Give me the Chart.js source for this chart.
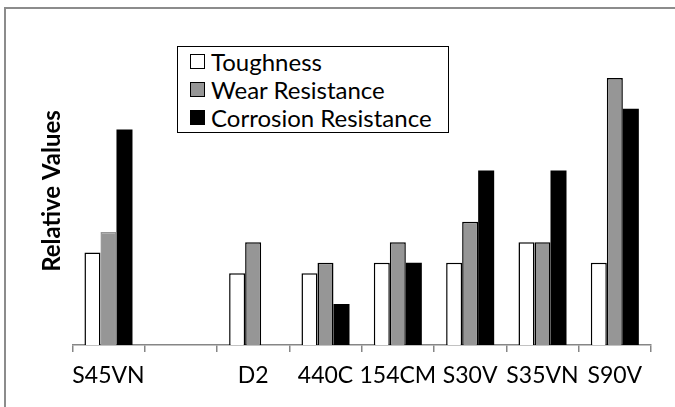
<!DOCTYPE html>
<html>
<head>
<meta charset="utf-8">
<script src="https://cdn.jsdelivr.net/npm/chart.js@4"></script>
<style>
  html, body { margin: 0; padding: 0; background: #fff; overflow: hidden; }
  #wrap { position: relative; width: 675px; height: 407px; }
  #frame { position: absolute; left: 4px; top: 7px; width: 700px; height: 430px;
           border-top: 2px solid #8c8c8c; border-left: 2px solid #8c8c8c; box-sizing: border-box; }
  #legend { position: absolute; left: 177px; top: 46px; width: 272px; height: 87px;
            border: 1.5px solid #000; box-sizing: border-box; background: #fff;
            font-family: Lato, sans-serif; font-size: 24px; color: #000; padding-top: 0px; }
  .item { display: flex; align-items: center; height: 28px; padding-left: 12px; }
  .box { width: 15px; height: 15px; box-sizing: border-box; border: 1.5px solid #000; margin-right: 6px; }
  canvas { position: absolute; left: 0; top: 0; }
</style>
</head>
<body>
<div id="wrap">
  <div id="frame"></div>
  <canvas id="chart" width="675" height="407"></canvas>
  <div id="legend"></div>
</div>
<script>
const categories = ['S45VN', '', 'D2', '440C', '154CM', 'S30V', 'S35VN', 'S90V'];
const seriesNames = ['Toughness', 'Wear Resistance', 'Corrosion Resistance'];
const toughness = [9, null, 7, 7, 8, 8, 10, 8];
const wearResistance = [11, null, 10, 8, 10, 12, 10, 26];
const corrosionResistance = [21, null, null, 4, 8, 17, 17, 23];
const yMax = 30;

const fills = ['#ffffff', '#969696', '#000000'];

Chart.defaults.font.family = 'Lato';
Chart.defaults.color = '#000';

const ctx = document.getElementById('chart').getContext('2d');
new Chart(ctx, {
    type: 'bar',
    data: {
        labels: categories,
        datasets: [
            {
                label: seriesNames[0],
                data: toughness,
                backgroundColor: fills[0],
                borderColor: '#000',
                borderWidth: 1.5
            },
            {
                label: seriesNames[1],
                data: wearResistance,
                backgroundColor: fills[1],
                borderColor: ['#969696', '#000', '#000', '#000', '#000', '#000', '#000', '#000'],
                borderWidth: 1.5
            },
            {
                label: seriesNames[2],
                data: corrosionResistance,
                backgroundColor: fills[2],
                borderColor: '#000',
                borderWidth: 0
            }
        ]
    },
    options: {
        responsive: false,
        animation: false,
        layout: { padding: { top: 37, right: 24, bottom: 0, left: 0 } },
        datasets: {
            bar: { categoryPercentage: 0.664, barPercentage: 1.0, borderSkipped: 'start' }
        },
        scales: {
            x: {
                grid: {
                    display: true,
                    drawOnChartArea: false,
                    drawTicks: true,
                    tickLength: 7,
                    offset: true,
                    color: '#868686',
                    lineWidth: 1.5
                },
                border: { display: true, color: '#868686', width: 1.5 },
                ticks: { font: { size: 23 }, padding: 10, maxRotation: 0, autoSkip: false },
                afterFit: (scale) => { scale.height = 62; }
            },
            y: {
                min: 0,
                max: yMax,
                grid: { display: false },
                border: { display: false },
                ticks: { display: false },
                title: {
                    display: true,
                    text: 'Relative Values',
                    font: { size: 24, weight: 'bold' },
                    padding: { top: 38, bottom: 0 }
                },
                afterFit: (scale) => { scale.width = 72.3; }
            }
        },
        plugins: {
            legend: { display: false },
            tooltip: { enabled: false }
        }
    }
});

const legend = document.getElementById('legend');
seriesNames.forEach((name, i) => {
    const row = document.createElement('div');
    row.className = 'item';
    const sw = document.createElement('span');
    sw.className = 'box';
    sw.style.background = fills[i];
    const txt = document.createElement('span');
    txt.textContent = name;
    row.appendChild(sw);
    row.appendChild(txt);
    legend.appendChild(row);
});
</script>
</body>
</html>
